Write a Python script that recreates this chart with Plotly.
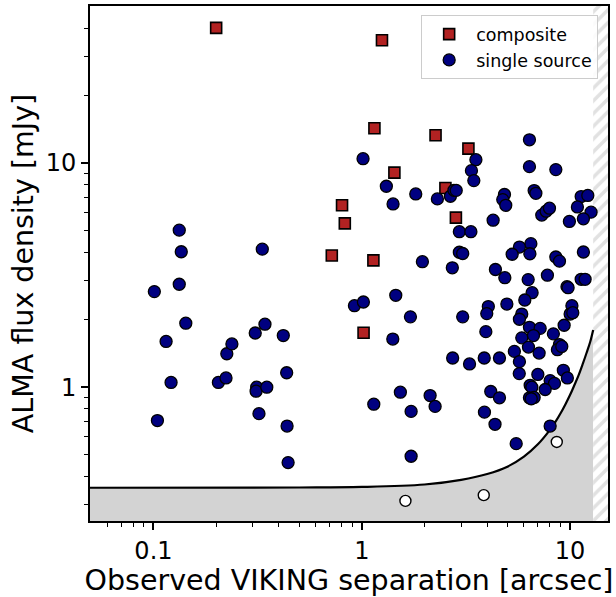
import math
import plotly.graph_objects as go

# ---------------- data ----------------
comp_x = [0.200, 1.25, 1.15, 2.26, 3.25, 1.434, 2.52, 0.804, 0.829, 2.83, 0.718, 1.137, 1.02]
comp_y = [40.1, 35.3, 14.3, 13.3, 11.6, 9.06, 7.74, 6.48, 5.38, 5.71, 3.87, 3.68, 1.75]

single_x = [
    # small separations
    0.101, 0.133, 0.143, 0.115, 0.1215, 0.1045, 0.205, 0.223, 0.225, 0.238, 0.308, 0.343,
    0.42, 0.436, 0.313, 0.311, 0.35, 0.321, 0.438, 0.443, 0.133, 0.136, 0.333,
    # around 1-3 arcsec
    1.014, 1.312, 1.413, 1.816, 2.306, 2.664, 2.77, 2.84, 3.53, 3.36, 3.45, 2.94, 3.34,
    2.94, 3.05, 1.954, 2.72, 0.922, 1.018, 1.456, 1.712, 3.05, 1.409, 2.73, 3.29, 1.532,
    1.142, 1.725, 2.128, 2.249, 1.725,
    # large separations
    6.38, 6.38, 8.54, 4.84, 4.75, 4.91, 6.72, 6.85, 4.27, 7.31, 7.67, 7.96,
    11.3, 12.16, 10.84, 12.6, 11.58, 9.92, 6.48, 5.71, 5.27, 6.41, 8.54, 8.89, 11.58,
    4.38, 4.86, 6.29, 7.78, 11.3, 11.8, 9.66, 9.78, 6.57, 6.06, 4.97, 4.05, 3.98, 5.86, 5.71,
    10.2, 10.0, 10.3, 9.36, 3.94, 6.38, 7.18, 6.67, 5.86, 8.31, 8.89, 8.69, 9.12,
    6.31, 5.40, 7.10, 5.71, 5.70, 3.87, 4.58, 7.0, 9.28, 9.70, 8.02, 8.41, 7.59,
    6.43, 6.55, 6.38, 6.72, 6.51, 4.16, 4.58, 3.88, 4.36, 5.51, 8.02,
]
single_y = [
    2.67, 2.88, 1.93, 1.60, 1.05, 0.71, 1.05, 1.10, 1.41, 1.56, 1.745, 1.91,
    1.70, 1.16, 1.0, 0.96, 1.0, 0.762, 0.671, 0.461, 5.02, 4.02, 4.13,
    10.46, 7.88, 6.57, 7.28, 6.92, 7.11, 7.56, 7.55, 10.35, 9.25, 8.35, 4.94, 4.94,
    4.0, 3.95, 3.63, 3.41, 2.31, 2.40, 2.57, 2.06, 2.06, 1.64, 1.35, 1.27, 0.95,
    0.84, 0.78, 0.918, 0.821, 0.492,
    12.7, 9.64, 9.35, 7.24, 6.87, 6.48, 7.54, 7.33, 5.56, 5.86, 6.10, 6.29,
    7.09, 7.17, 6.37, 6.04, 5.64, 5.49, 4.37, 4.22, 3.92, 3.94, 3.81, 3.65, 4.01,
    3.35, 3.08, 3.02, 3.16, 3.03, 3.03, 2.81, 2.78, 2.64, 2.45, 2.35, 2.29, 2.13, 2.12, 2.01,
    2.31, 2.12, 2.15, 1.89, 1.77, 1.85, 1.83, 1.70, 1.66, 1.73, 1.55, 1.47, 1.52,
    1.51, 1.445, 1.42, 1.30, 1.15, 1.35, 1.35, 1.14, 1.19, 1.10, 1.07, 1.04, 0.977,
    1.02, 1.0, 0.897, 0.90, 0.888, 0.957, 0.897, 0.774, 0.683, 0.56, 0.671,
]

faint_x = [1.62, 3.85, 8.63]
faint_y = [0.311, 0.330, 0.570]

# detection-limit curve
limit_x = [0.04, 0.5, 1, 2, 3, 4, 5, 6, 7, 8, 8.5, 9, 9.5, 10, 10.5, 11, 11.5, 12, 12.5, 12.9]
limit_y = [0.356, 0.357, 0.359, 0.368, 0.386, 0.41, 0.442, 0.49, 0.556, 0.645, 0.70,
           0.765, 0.84, 0.925, 1.025, 1.135, 1.27, 1.425, 1.60, 1.80]

X_RANGE = (0.0496, 15.2)
Y_RANGE = (0.253, 50.2)
X_HATCH = 12.9

x_major = [0.1, 1, 10]
x_major_text = ["0.1", "1", "10"]
y_major = [1, 10]
y_major_text = ["1", "10"]
x_minor = [0.06, 0.07, 0.08, 0.09] + [k / 10 for k in range(2, 10)] + list(range(2, 10))
y_minor = [k / 10 for k in range(3, 10)] + list(range(2, 10)) + [20, 30, 40]

FONT = "DejaVu Sans"

fig = go.Figure()

# grey excluded area below the limit
fig.add_trace(go.Scatter(
    x=limit_x + [limit_x[-1], limit_x[0]],
    y=limit_y + [Y_RANGE[0] * 0.5, Y_RANGE[0] * 0.5],
    mode="lines", fill="toself", fillcolor="#d3d3d3",
    line=dict(width=0), hoverinfo="skip", showlegend=False))

# hatched region beyond the field
fig.add_trace(go.Scatter(
    x=[X_HATCH, X_RANGE[1] * 1.3, X_RANGE[1] * 1.3, X_HATCH],
    y=[Y_RANGE[0] * 0.5, Y_RANGE[0] * 0.5, Y_RANGE[1] * 2, Y_RANGE[1] * 2],
    mode="lines", fill="toself", fillcolor="white",
    fillpattern=dict(shape="/", fgcolor="#c4c4c4", bgcolor="white", size=9, solidity=0.4),
    line=dict(width=0), hoverinfo="skip", showlegend=False))

# limit curve
fig.add_trace(go.Scatter(
    x=limit_x, y=limit_y, mode="lines", line=dict(color="black", width=2.2, shape="spline"),
    hoverinfo="skip", showlegend=False))

# faint (undetected) sources
fig.add_trace(go.Scatter(
    x=faint_x, y=faint_y, mode="markers",
    marker=dict(symbol="circle", size=11, color="white", line=dict(color="black", width=1.4)),
    showlegend=False, cliponaxis=False))

fig.add_trace(go.Scatter(
    x=comp_x, y=comp_y, mode="markers", name="composite", legendgroup="c",
    marker=dict(symbol="square", size=11, color="#b22222", line=dict(color="black", width=1.6))))

fig.add_trace(go.Scatter(
    x=single_x, y=single_y, mode="markers", name="single source", legendgroup="s",
    marker=dict(symbol="circle", size=12, color="#000080", line=dict(color="black", width=1.3))))

axis_common = dict(
    type="log", showline=True, linecolor="black", linewidth=1.8, mirror=True,
    ticks="outside", ticklen=7, tickwidth=1.6, tickcolor="black",
    showgrid=False, zeroline=False, tickmode="array",
    tickfont=dict(family=FONT, size=24, color="black"),
)

fig.update_xaxes(
    **axis_common,
    range=[math.log10(X_RANGE[0]), math.log10(X_RANGE[1])],
    tickvals=x_major, ticktext=x_major_text,
    minor=dict(tickmode="array", tickvals=x_minor, ticks="outside", ticklen=4,
               tickwidth=1.2, tickcolor="black", showgrid=False),
    title=dict(text="Observed VIKING separation [arcsec]",
               font=dict(family=FONT, size=28.5, color="black"), standoff=4),
)
fig.update_yaxes(
    **axis_common,
    range=[math.log10(Y_RANGE[0]), math.log10(Y_RANGE[1])],
    tickvals=y_major, ticktext=y_major_text,
    minor=dict(tickmode="array", tickvals=y_minor, ticks="outside", ticklen=4,
               tickwidth=1.2, tickcolor="black", showgrid=False),
    title=dict(text="ALMA flux density [mJy]",
               font=dict(family=FONT, size=28.5, color="black"), standoff=4),
)

fig.update_layout(
    width=616, height=597,
    margin=dict(l=90, r=8, t=4, b=76),
    paper_bgcolor="white", plot_bgcolor="white",
    font=dict(family=FONT, color="black"),
    legend=dict(x=0.981, y=0.982, xanchor="right", yanchor="top",
                bgcolor="rgba(255,255,255,0.85)", bordercolor="#cccccc", borderwidth=1,
                font=dict(family=FONT, size=17.5, color="black"),
                itemwidth=44, tracegroupgap=0),
)

fig.write_html("out.html", config={"displayModeBar": False},
               post_script="document.body.style.margin='0px';")
